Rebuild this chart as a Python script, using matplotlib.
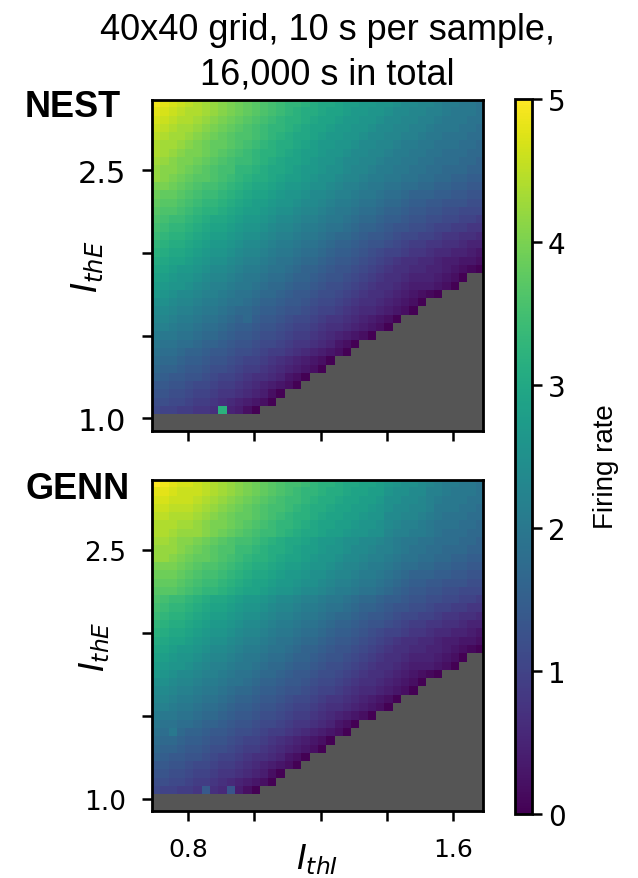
import numpy as np
import matplotlib
matplotlib.use("Agg")
import matplotlib.pyplot as plt

# Firing-rate levels: each character is one cell, value = LEVELS.index(ch) / 10
# ('.' = no value, drawn grey). Rows are listed from the top (I_thE high) down.
LEVELS = "0123456789ABCDEFGHIJKLMNOPQRSTUVWXYZabcdefghijklmno"

nest_rows = [
    "nmlkjihgfedcbaZYXXWVUUTSSRRQQPOONNMLLKKJ",
    "mlkjiihgfedcbaZYXWVVUTTSRRQQPOONNMMLKKKJ",
    "lkjiihgfedcbaZYXWWVUTTSRRQQPOONNMMLKKKJJ",
    "kjihhgfedcbaZYXXWVUTTSRRQQPOONNMMLKKKJJI",
    "jihhgfedcbaaZYXWVUUTSRRQQPOONNMMLKKJJJII",
    "ihhgfedccbaZYXWVVUTSRRQQPOONNMLLKKJJJIIH",
    "ihgfeedcbaZYXWWVUTSSRQQPOONNMLLKKJJIIIHH",
    "hgfeedcbaZYYXWVUTTSRQQPOONNMLLKKJJIIIHHG",
    "gffedcbaZZXXWVUUTSRRQPPONNMLLKKJJIIHHHGG",
    "gfedcbbaZYXWVVUTSSRQPPONNMLLKKJJIIHHGGFF",
    "eedcbaZZYXWVUUTSRRQPPONMMLKKJJIIHHGGFFEE",
    "dccbaZYYXWVUTTSRQQPOONMMLKKJIIHGGGFFEEDD",
    "cbbaZYXXWVUTSSRQQPOONMLLKJJIHHGFFEEDDDCC",
    "baaZYXWWVUTSSRQPPONNMLKKJIIHGGFEEDDCCBBB",
    "aZYYXWVUUTSRRQPOONMMLKKJIHHGFFEDDCCBBAA9",
    "ZYXXWVUTTSRQQPONNMLLKJJIHGGFEDDCCBAA9988",
    "YXWWVUTSSRQPPONMMLKKJIHHGFEEDCBBAA988776",
    "XWVVUTSRRQPOONMLLKJJIHGGFEDDCBA998877655",
    "WVUUTSRQQPONNMLKKJIIHGFFEDCBAA9887665543",
    "VUTTSRQPPONMMLKJJIHHGFEEDCBA987766544332",
    "UTSRRQPOONMLLKJJIHGGFEDDCBA9877665543210",
    "TSRQQPONNMLKKJIIHGGFEDDCBA987765554320",
    "SRQQPONMMLKKJIHHGFFEDCCBA987765444320",
    "RQPOONMMLKJJIHHGFEEDCCBA98776543210",
    "PPONNMLLKJJIHGGFEEDCBBA9877654320",
    "OONMMLKKJIHHGFFEDDCBAA9876654320",
    "NNMLLKJJIHGHFEEDCBBA9887654320",
    "MMLKKJIIHGFFEDDCBAA9877654320",
    "LKKJJIHHGFEEDCCBA9987654320",
    "KJJIIHGGFEDDCBBA988765320",
    "JIIHGGFEEDCCBA9987654320",
    "IHHGFFEDDCBAA987654320",
    "HGGFEEDCCBA9987654320",
    "GFEEDDCBAA987765320",
    "EEDDCBBA9987654320",
    "DDCCBAA988765420",
    "CCBBA9987654320",
    "BAA99887W5420",
    "",
    "",
]

genn_rows = [
    "onmllkjihgfedcbaZZYXWWVUUTTSRQPPONMLLKKJ",
    "mmlkkkjihgfedcbaZYXXWVVUTTSSQPPOOMMLKKKJ",
    "llkkkjihgfedcbaZYYXWVVUTTSSRPPOONMLKKKJJ",
    "kkjjjihgfedcbaZZYXWVVUTTSSRQPOONNMKKKJJI",
    "jjiiihgfedccbaZYXWWVUTTSSRQQOONNMLKJJJII",
    "iiihhgfeedcbaZYXXWVUTTSSRQQPONMMLKJJJIIH",
    "iihgggfedcbaZYYXWVUUTSSRQQPPNMMLLKJIIIHH",
    "hhgffedcbaZZYXWVUUTSRRQPPOONMLKKJJIIIHHG",
    "gggfedcbaaYYXWVVUTSSRQQPOONMMLKJJIIHHHGG",
    "ggfedccbaZYXWWVUTTSRQQPOONMMLKJJIIHHGGFF",
    "eeedcbaaZYXWVVUTSSRQQPONNMLLKJIIHHGGFFEE",
    "dddcbaZZYXWVUUTSRRQPPONNMLLKJIHGGGFFEEDD",
    "cccbaZYYXWVUTTSRRQPPONMMLKKJIHGFFEEDDDCC",
    "bbbaZYXXWVUTTSRQQPOONMLLKJJIHGFEEDDCCBBB",
    "aZYYXWVUUTSRRQPOONMMLKKJIHHGFFEDDCCBBAA9",
    "ZYXXWVUTTSRQQPONNMLLKJJIHGGFEDDCCBAA9988",
    "YXWWVUTSSRQPPONMMLKKJIHHGFEEDCBBAA988776",
    "XWVVUTSRRQPOONMLLKJJIHGGFEDDCBA998877655",
    "WVUUTSRQQPONNMLKKJIIHGFFEDCBAA9887665543",
    "VUTTSRQPPONMMLKJJIHHGFEEDCBA987766544332",
    "UTSRRQPOONMLLKJJIHGGFEDDCBA9877665543210",
    "TSRQQPONNMLKKJIIHGGFEDDCBA987765554320",
    "SRQQPONMMLKKJIHHGFFEDCCBA987765444320",
    "RQPOONMMLKJJIHHGFEEDCCBA98776543210",
    "PPONNMLLKJJIHGGFEEDCBBA9877654320",
    "OONMMLKKJIHHGFFEDDCBAA9876654320",
    "NNMLLKJJIHGGFEEDCBBA9887654320",
    "MMLKKJIIHGFFEDDCBAA9877654320",
    "LKKJJIHHGFEEDCCBA9987654320",
    "KJJIIHGGFEDDCBBA988765320",
    "JIKHGGFEEDCCBA9987654320",
    "IHHGFFEDDCBAA987654320",
    "HGGFEEDCCBA9987654320",
    "GFEEDDCBAA987765320",
    "EEDDCBBA9987654320",
    "DDCCBAA988765420",
    "CCBBA9987654320",
    "BAA998E76D420",
    "",
    "",
]

x_range = (0.69, 1.69)      # I_thI span of the grid
y_range = (0.9236, 2.9236)  # I_thE span of the grid
x_ticks = [0.8, 1.0, 1.2, 1.4, 1.6]
x_ticklabels = ["0.8", "", "", "", "1.6"]
y_ticks = [1.0, 1.5, 2.0, 2.5]
y_ticklabels = ["1.0", "", "", "2.5"]
cbar_ticks = [0, 1, 2, 3, 4, 5]
panel_names = ["NEST", "GENN"]
title = "40x40 grid, 10 s per sample,\n16,000 s in total"


def decode(rows):
    grid = np.full((40, 40), np.nan)
    assert len(rows) == 40
    for i, row in enumerate(rows):
        assert len(row) <= 40, (i, len(row))
        for j, ch in enumerate(row):
            if ch != ".":
                grid[i, j] = LEVELS.index(ch) / 10.0
    return grid


fig = plt.figure(figsize=(6.38, 8.79), dpi=100)
cmap = plt.get_cmap("viridis").copy()
cmap.set_bad("#555555")

axes_pos = [[0.2378, 0.5085, 0.5193, 0.3766], [0.2378, 0.0759, 0.5193, 0.3772]]
ytick_sizes = [22, 19]
ylabel_sizes = [25, 24]
name_y = [0.8669, 0.4323]
ylabel_x = [-0.14, -0.12]

im = None
for k, rows in enumerate([nest_rows, genn_rows]):
    ax = fig.add_axes(axes_pos[k])
    grid = np.ma.masked_invalid(decode(rows))
    im = ax.imshow(grid, cmap=cmap, vmin=0, vmax=5, origin="upper",
                   extent=[x_range[0], x_range[1], y_range[0], y_range[1]],
                   aspect="auto", interpolation="nearest")
    ax.set_xlim(*x_range)
    ax.set_ylim(*y_range)
    ax.set_xticks(x_ticks)
    ax.set_yticks(y_ticks)
    ax.set_yticklabels(y_ticklabels)
    if k == 1:
        ax.set_xticklabels(x_ticklabels)
        ax.set_xlabel(r"$I_{thI}$", fontsize=24)
        ax.xaxis.set_label_coords(0.5, -0.09)
    else:
        ax.set_xticklabels([])
    ax.set_ylabel(r"$I_{thE}$", fontsize=ylabel_sizes[k])
    ax.yaxis.set_label_coords(ylabel_x[k], 0.5)
    ax.tick_params(axis="y", labelsize=ytick_sizes[k], length=7.5, width=1.8, pad=11)
    ax.tick_params(axis="x", labelsize=18, length=7.5, width=1.8, pad=11)
    for sp in ax.spines.values():
        sp.set_linewidth(2)
    fig.text(25 / 638, name_y[k], panel_names[k], fontsize=26, fontweight="bold",
             family="Liberation Sans", ha="left", va="baseline")

cax = fig.add_axes([0.8072, 0.0728, 0.0266, 0.8134])
cb = fig.colorbar(im, cax=cax, ticks=cbar_ticks)
cb.outline.set_linewidth(2)
cax.tick_params(labelsize=20, length=7.5, width=1.8, pad=4)
fig.text(606 / 638, 1 - 467 / 879, "Firing rate", rotation=90, ha="center",
         va="center", fontsize=20, family="Liberation Sans")

fig.text(0.513, 0.985, title, ha="center", va="top", fontsize=26,
         family="Liberation Sans", linespacing=1.35)

fig.savefig("out.png", dpi=100)
